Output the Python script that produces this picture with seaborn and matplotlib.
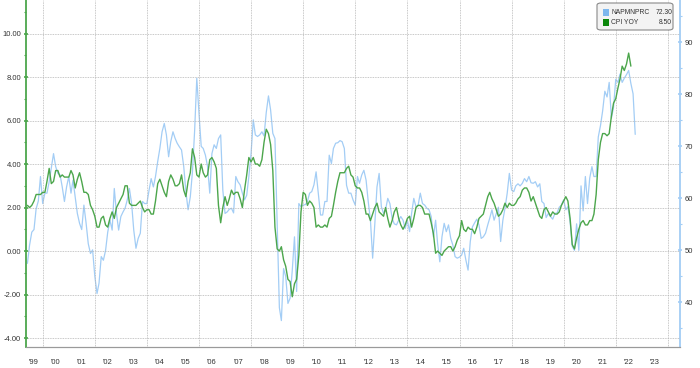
import numpy as np
import pandas as pd
import matplotlib
matplotlib.use("Agg")
import matplotlib.pyplot as plt
import matplotlib.dates as mdates
from matplotlib.patches import FancyBboxPatch, Rectangle
from matplotlib.ticker import MultipleLocator, FormatStrFormatter
import seaborn as sns

# CPI YoY (%), monthly from May 1999 to Jul 2022 (left axis)
cpi_yoy = [
    2.1, 2.0, 2.1, 2.3, 2.6, 2.6, 2.6, 2.7,
    2.7, 3.2, 3.8, 3.1, 3.2, 3.7, 3.7, 3.4, 3.5, 3.4, 3.4, 3.4,
    3.7, 3.5, 2.9, 3.3, 3.6, 3.2, 2.7, 2.7, 2.6, 2.1, 1.9, 1.6,
    1.1, 1.1, 1.5, 1.6, 1.2, 1.1, 1.5, 1.8, 1.5, 2.0, 2.2, 2.4,
    2.6, 3.0, 3.0, 2.2, 2.1, 2.1, 2.1, 2.2, 2.3, 2.0, 1.8, 1.9,
    1.9, 1.7, 1.7, 2.3, 3.1, 3.3, 3.0, 2.7, 2.5, 3.2, 3.5, 3.3,
    3.0, 3.0, 3.1, 3.5, 2.8, 2.5, 3.2, 3.6, 4.7, 4.3, 3.5, 3.4,
    4.0, 3.6, 3.4, 3.5, 4.2, 4.3, 4.1, 3.8, 2.1, 1.3, 2.0, 2.5,
    2.1, 2.4, 2.8, 2.6, 2.7, 2.7, 2.4, 2.0, 2.8, 3.5, 4.3, 4.1,
    4.3, 4.0, 4.0, 3.9, 4.2, 5.0, 5.6, 5.4, 4.9, 3.7, 1.1, 0.1,
    0.0, 0.2, -0.4, -0.7, -1.3, -1.4, -2.1, -1.5, -1.3, -0.2, 1.8, 2.7,
    2.6, 2.1, 2.3, 2.2, 2.0, 1.1, 1.2, 1.1, 1.1, 1.2, 1.1, 1.5,
    1.6, 2.1, 2.7, 3.2, 3.6, 3.6, 3.6, 3.8, 3.9, 3.5, 3.4, 3.0,
    2.9, 2.9, 2.7, 2.3, 1.7, 1.7, 1.4, 1.7, 2.0, 2.2, 1.8, 1.7,
    1.6, 2.0, 1.5, 1.1, 1.4, 1.8, 2.0, 1.5, 1.2, 1.0, 1.2, 1.5,
    1.6, 1.1, 1.5, 2.0, 2.1, 2.1, 2.0, 1.7, 1.7, 1.7, 1.3, 0.8,
    -0.1, 0.0, -0.1, -0.2, 0.0, 0.1, 0.2, 0.2, 0.0, 0.2, 0.5, 0.7,
    1.4, 1.0, 0.9, 1.1, 1.0, 1.0, 0.8, 1.1, 1.5, 1.6, 1.7, 2.1,
    2.5, 2.7, 2.4, 2.2, 1.9, 1.6, 1.7, 1.9, 2.2, 2.0, 2.2, 2.1,
    2.1, 2.2, 2.4, 2.5, 2.8, 2.9, 2.9, 2.7, 2.3, 2.5, 2.2, 1.9,
    1.6, 1.5, 1.9, 2.0, 1.8, 1.6, 1.8, 1.7, 1.7, 1.8, 2.1, 2.3,
    2.5, 2.3, 1.5, 0.3, 0.1, 0.6, 1.0, 1.3, 1.4, 1.2, 1.2, 1.4,
    1.4, 1.7, 2.6, 4.2, 5.0, 5.4, 5.4, 5.3, 5.4, 6.2, 6.8, 7.0,
    7.5, 7.9, 8.5, 8.3, 8.6, 9.1, 8.5,
]

# NAPMNPRC as plotted (right axis), monthly from May 1999
napm_prices = [
    47.5, 51.0, 53.5, 54.0, 58.0, 59.5, 64.2, 59.0,
    61.0, 61.0, 63.2, 65.8, 68.6, 66.1, 64.8, 64.5, 62.2, 59.4, 62.2, 64.2,
    61.0, 63.5, 60.3, 57.1, 55.2, 54.0, 58.7, 55.2, 51.3, 49.4, 50.1, 45.0,
    41.7, 43.7, 48.8, 48.1, 50.0, 53.5, 55.8, 53.9, 61.9, 57.1, 53.9, 56.5,
    57.4, 58.1, 59.7, 61.9, 59.0, 53.9, 50.4, 52.3, 53.3, 59.4, 59.0, 59.0,
    61.6, 63.8, 62.2, 64.2, 67.1, 69.6, 72.8, 74.4, 72.2, 68.0, 70.9, 72.8,
    71.5, 70.6, 69.9, 69.3, 66.1, 61.3, 57.8, 60.3, 65.1, 73.1, 83.1, 76.3,
    70.0, 69.6, 68.3, 66.1, 61.0, 68.6, 70.3, 69.6, 71.5, 72.2, 61.6, 57.1,
    57.4, 57.9, 58.1, 57.2, 64.2, 63.2, 62.6, 61.0, 59.7, 60.6, 64.2, 68.6,
    75.1, 72.2, 71.9, 72.2, 72.8, 72.0, 76.5, 79.7, 77.0, 72.5, 71.5, 55.0,
    39.0, 36.5, 46.5, 45.0, 39.8, 40.8, 46.2, 52.6, 42.1, 59.0, 58.4, 58.7,
    58.8, 59.4, 61.0, 61.3, 62.6, 65.1, 61.0, 56.8, 56.8, 59.4, 59.4, 68.3,
    66.7, 69.6, 70.6, 70.7, 71.1, 70.9, 69.6, 62.5, 61.0, 61.0, 59.7, 58.7,
    64.2, 62.9, 64.5, 65.4, 63.5, 59.4, 55.8, 48.5, 55.0, 62.2, 64.8, 58.4,
    57.1, 57.8, 60.0, 59.0, 56.2, 55.1, 54.9, 55.8, 56.5, 55.8, 54.2, 55.8,
    53.6, 57.1, 60.0, 58.4, 58.7, 61.0, 59.0, 58.7, 58.1, 57.8, 56.5, 52.6,
    55.8, 51.3, 47.8, 52.6, 55.2, 53.6, 54.9, 52.3, 51.0, 48.8, 48.5, 48.7,
    49.1, 50.4, 48.1, 46.2, 51.7, 54.5, 55.3, 56.0, 54.9, 52.3, 52.6, 53.3,
    54.9, 56.2, 57.8, 55.8, 57.1, 58.3, 51.7, 55.8, 58.1, 61.0, 64.8, 61.6,
    61.3, 62.4, 62.8, 62.4, 62.9, 63.8, 63.2, 64.2, 63.0, 62.9, 63.2, 62.2,
    62.8, 59.4, 59.0, 56.3, 57.1, 56.5, 56.0, 57.1, 57.2, 58.3, 58.7, 59.7,
    57.8, 58.4, 55.5, 50.8, 50.0, 55.1, 50.0, 62.4, 57.6, 64.2, 59.0, 63.9,
    66.1, 64.2, 64.2, 71.8, 74.0, 76.8, 80.6, 79.5, 82.3, 75.4, 77.5, 82.9,
    82.3, 83.9, 82.3, 83.1, 83.8, 84.6, 82.1, 80.1, 72.3,
]

year_labels = list(range(1999, 2024))
left_ticks = [-4, -2, 0, 2, 4, 6, 8, 10]
right_ticks = [40, 50, 60, 70, 80, 90]

cpi_df = pd.DataFrame({
    "date": pd.date_range("1999-05-31", periods=len(cpi_yoy), freq="ME"),
    "value": cpi_yoy,
})
napm_df = pd.DataFrame({
    "date": pd.date_range("1999-05-31", periods=len(napm_prices), freq="ME"),
    "value": napm_prices,
})

GREEN = "#4ca64c"
GREEN_DARK = "#0b870b"
BLUE = "#a3cdf5"
BLUE_DARK = "#7db7ee"
TXT = "#333333"

sns.set_style("white")
plt.rcParams["font.family"] = ["Liberation Sans", "DejaVu Sans"]

fig = plt.figure(figsize=(7.0, 3.68), dpi=100)
ax = fig.add_axes([26 / 700, 21 / 368, 654 / 700, 347 / 368])
ax2 = ax.twinx()

sns.lineplot(data=napm_df, x="date", y="value", ax=ax2, color=BLUE, lw=0.9)
sns.lineplot(data=cpi_df, x="date", y="value", ax=ax, color=GREEN, lw=1.0)

# green series on top of blue one
ax.set_zorder(ax2.get_zorder() + 1)
ax.patch.set_visible(False)

ax.set_xlim(pd.Timestamp("1999-05-11"), pd.Timestamp("2024-06-19"))
ax.set_ylim(-4.41, 11.54)
ax2.set_ylim(31.42, 98.14)
ax.set_xlabel("")
ax.set_ylabel("")
ax2.set_ylabel("")

# left axis
ax.set_yticks(left_ticks)
ax.yaxis.set_major_formatter(FormatStrFormatter("%.2f"))
ax.yaxis.set_minor_locator(MultipleLocator(1))
ax.tick_params(axis="y", which="major", direction="inout", length=3, width=1.2,
               color=GREEN, labelsize=5.5, labelcolor=TXT, pad=2)
ax.tick_params(axis="y", which="minor", direction="out", length=1.5, width=0.8,
               color=GREEN)

# right axis
ax2.set_yticks(right_ticks)
ax2.yaxis.set_minor_locator(MultipleLocator(5))
ax2.tick_params(axis="y", which="major", direction="inout", length=3, width=1.2,
                color=BLUE, labelsize=5.5, labelcolor=TXT, pad=2)
ax2.tick_params(axis="y", which="minor", direction="out", length=1.5, width=0.8,
                color=BLUE)

# x axis: tick marks at year starts, labels mid-year
ax.xaxis.set_major_locator(mdates.YearLocator(1))
ax.xaxis.set_major_formatter(plt.NullFormatter())
label_pos = [pd.Timestamp(f"{y}-07-01") for y in year_labels]
label_pos[0] = pd.Timestamp("1999-09-01")
ax.set_xticks(label_pos, minor=True)
ax.set_xticklabels(["'" + str(y)[2:] for y in year_labels], minor=True)
ax.tick_params(axis="x", which="major", direction="out", length=11, width=0.8,
               color="#9a9a9a")
ax.tick_params(axis="x", which="minor", length=0, labelsize=5.5,
               labelcolor=TXT, pad=9)

# grid
for v in left_ticks:
    ax.axhline(v, color="#b5b5b5", lw=0.6, ls=(0, (1, 1)), zorder=0)
for y in range(2000, 2025, 2):
    ax.axvline(pd.Timestamp(f"{y}-01-01"), color="#b5b5b5", lw=0.6,
               ls=(0, (1, 1)), zorder=0)

for a in (ax, ax2):
    a.spines["top"].set_visible(False)
    a.spines["bottom"].set_color("#9a9a9a")
    a.spines["bottom"].set_linewidth(0.8)
ax.spines["left"].set_color(GREEN)
ax.spines["left"].set_linewidth(1.3)
ax.spines["right"].set_visible(False)
ax2.spines["left"].set_visible(False)
ax2.spines["right"].set_color(BLUE)
ax2.spines["right"].set_linewidth(1.3)

# legend box, Bloomberg style
W, H = 700.0, 368.0
box = FancyBboxPatch((597 / W, 1 - 30 / H), 76 / W, 27 / H,
                     boxstyle="round,pad=0,rounding_size=0.006",
                     transform=fig.transFigure, facecolor="#f3f3f3",
                     edgecolor="#8a8a8a", lw=0.8, zorder=10)
fig.add_artist(box)
entries = [("NAPMNPRC", "72.30", BLUE_DARK, 12.3),
           ("CPI YOY", "8.50", GREEN_DARK, 22.3)]
for name, val, col, yc in entries:
    fig.add_artist(Rectangle((602.5 / W, 1 - (yc + 3.2) / H), 6.5 / W, 6.5 / H,
                             transform=fig.transFigure, facecolor=col,
                             edgecolor="none", zorder=11))
    fig.text(611.0 / W, 1 - yc / H, name, ha="left", va="center",
             fontsize=4.9, color=TXT, zorder=12)
    fig.text(672.0 / W, 1 - yc / H, val, ha="right", va="center",
             fontsize=4.9, color=TXT, zorder=12)

fig.savefig("out.png", dpi=100)
